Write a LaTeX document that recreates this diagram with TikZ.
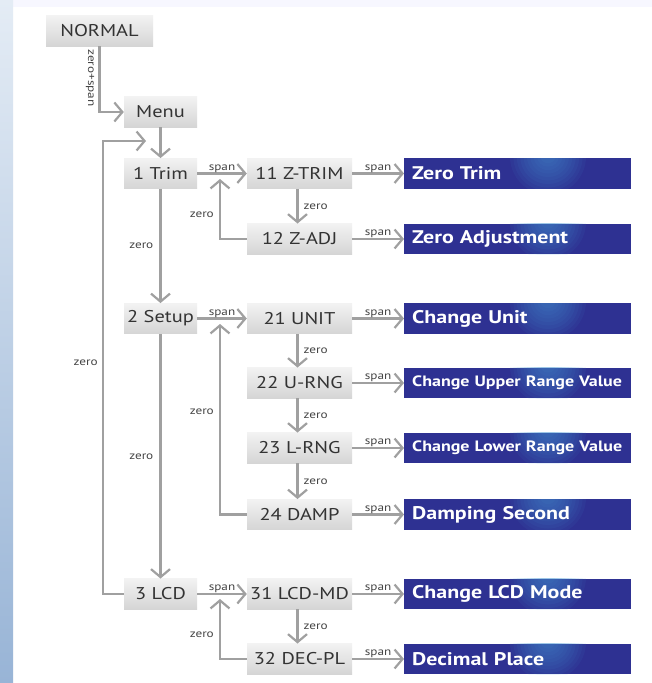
\documentclass[tikz,border=0pt]{standalone}
\usepackage{fontspec}
\setmainfont{PT Sans}[FakeStretch=1.2]
\usetikzlibrary{arrows.meta,calc}
\definecolor{boxblue}{HTML}{2E3192}
\definecolor{glow}{HTML}{4A9AD8}
\definecolor{linegray}{HTML}{A0A0A0}
\definecolor{txtgray}{HTML}{333333}
\definecolor{lbl}{HTML}{444444}
\begin{document}
\begin{tikzpicture}[x=1pt,y=-1pt,
  graybox/.style={top color=gray!10, bottom color=gray!33, minimum height=30.5pt, inner sep=0pt, text=txtgray, font=\fontsize{17}{19}\selectfont},
  bluebox/.style={fill=boxblue, anchor=west, minimum width=227pt, text width=211pt, inner xsep=8pt, inner ysep=0pt, minimum height=30.5pt, align=left, text=white, font=\bfseries\fontsize{18.3}{20}\selectfont},
  bluetext/.style={anchor=west, text width=211pt, inner xsep=8pt, inner ysep=0pt, minimum height=30.5pt, align=left, text=white, font=\bfseries\fontsize{18.3}{20}\selectfont},
  smallblue/.style={font=\bfseries\fontsize{15}{17}\selectfont},
  arr/.style={draw=linegray, line width=2.4pt, -{Straight Barb[length=8pt,width=19pt,line width=2.2pt]}},
  lab/.style={text=lbl, font=\fontsize{11}{12}\selectfont, inner sep=1pt}
]
\useasboundingbox (0,0) rectangle (652,683);
\fill[white] (0,0) rectangle (652,683);
\fill[blue!3!white] (0,0) rectangle (652,7);
\shade[top color={rgb,255:red,228;green,236;blue,245}, bottom color={rgb,255:red,152;green,180;blue,214}] (0,0) rectangle (13,683);

% gray nodes
\node[graybox, minimum width=107pt] (normal) at (99.5,31) {NORMAL};
\node[graybox, minimum width=73pt] (menu) at (160.5,112) {Menu};
\node[graybox, minimum width=73pt] (trim) at (160.5,173.5) {1 Trim};
\node[graybox, minimum width=73pt] (setup) at (160.5,318.5) {2 Setup};
\node[graybox, minimum width=73pt] (lcd) at (160.5,594) {3 LCD};
\node[graybox, minimum width=105pt] (ztrim) at (299.5,173.5) {11 Z-TRIM};
\node[graybox, minimum width=105pt] (zadj) at (299.5,239) {12 Z-ADJ};
\node[graybox, minimum width=105pt] (unit) at (299.5,318.5) {21 UNIT};
\node[graybox, minimum width=105pt] (urng) at (299.5,383) {22 U-RNG};
\node[graybox, minimum width=105pt] (lrng) at (299.5,448) {23 L-RNG};
\node[graybox, minimum width=105pt] (damp) at (299.5,514.5) {24 DAMP};
\node[graybox, minimum width=105pt] (lcdmd) at (299.5,594) {31 LCD-MD};
\node[graybox, minimum width=105pt] (decpl) at (299.5,659) {32 DEC-PL};

% blue nodes (boxes)
\node[bluebox] (bzt) at (404,173.5) {\phantom{X}};
\node[bluebox] (bza) at (404,239) {\phantom{X}};
\node[bluebox] (bcu) at (404,318.5) {\phantom{X}};
\node[bluebox] (bur) at (404,383) {\phantom{X}};
\node[bluebox] (blr) at (404,448) {\phantom{X}};
\node[bluebox] (bds) at (404,514.5) {\phantom{X}};
\node[bluebox] (blm) at (404,594) {\phantom{X}};
\node[bluebox] (bdp) at (404,659) {\phantom{X}};
\foreach \yy in {173.5,239,318.5,383,448,514.5,594,659}{
  \begin{scope}
    \clip (404,\yy-15.25) rectangle (631,\yy+15.25);
    \foreach \k in {1,...,10}{
      \fill[glow, opacity=0.07] (548,\yy-17) ellipse [x radius={(4+3.4*\k)*1pt}, y radius={(3+3.5*\k)*1pt}];
    }
  \end{scope}
}
% texts of the blue nodes
\node[bluetext] (tzt) at (bzt.west) {Zero Trim};
\node[bluetext] (tza) at (bza.west) {Zero Adjustment};
\node[bluetext] (tcu) at (bcu.west) {Change Unit};
\node[bluetext, smallblue] (tur) at (bur.west) {Change Upper Range Value};
\node[bluetext, smallblue] (tlr) at (blr.west) {Change Lower Range Value};
\node[bluetext] (tds) at (bds.west) {Damping Second};
\node[bluetext] (tlm) at (blm.west) {Change LCD Mode};
\node[bluetext] (tdp) at (bdp.west) {Decimal Place};

\coordinate (loopend) at (146,141);
\coordinate (r1) at (220,179);
\coordinate (r2) at (220,324);
\coordinate (r3) at (220,599);

% connectors
\draw[arr] (normal.south) |- (menu.west)
  node[pos=0.24, lab, rotate=-90, below=3pt] {zero+span};
\draw[arr] (menu) -- (trim);
\draw[arr] (lcd.west) -- ++(-21,0) |- (loopend)
  node[pos=0.255, lab, left=3pt] {zero};
\draw[arr] (trim) -- (setup) node[midway, lab, left=5pt] {zero};
\draw[arr] (setup) -- (lcd) node[midway, lab, left=5pt] {zero};

\draw[arr] (trim) -- (ztrim) node[midway, lab, above=-1pt] {span};
\draw[arr] (setup) -- (unit) node[midway, lab, above=-1pt] {span};
\draw[arr] (lcd) -- (lcdmd) node[midway, lab, above=-1pt] {span};

\foreach \s/\t in {ztrim/bzt, zadj/bza, unit/bcu, urng/bur, lrng/blr, damp/bds, lcdmd/blm, decpl/bdp}{
  \draw[arr] (\s) -- (\t) node[midway, lab, above=-1pt] {span};
}
\foreach \s/\t in {ztrim/zadj, unit/urng, urng/lrng, lrng/damp, lcdmd/decpl}{
  \draw[arr] ([xshift=-2pt]\s.south) -- ([xshift=-2pt]\t.north) node[midway, lab, right=4pt] {zero};
}
\draw[arr] (zadj.west) -| (r1) node[pos=0.7, lab, left=4pt] {zero};
\draw[arr] (damp.west) -| (r2) node[pos=0.77, lab, left=4pt] {zero};
\draw[arr] (decpl.west) -| (r3) node[pos=0.7, lab, left=4pt] {zero};
\end{tikzpicture}
\end{document}
